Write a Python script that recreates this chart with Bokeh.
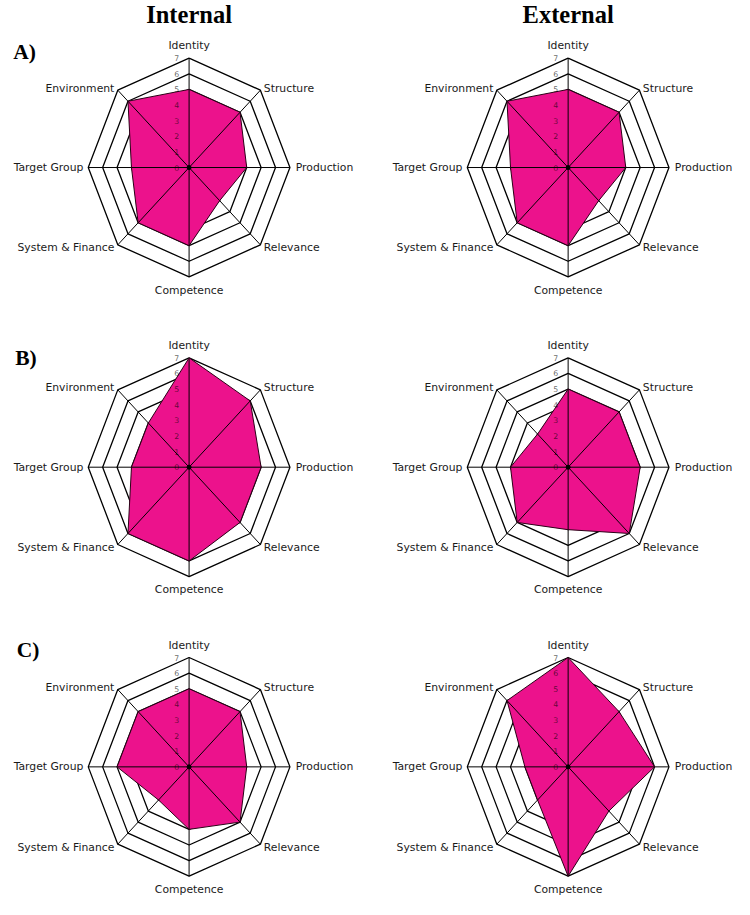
import numpy as np
from bokeh.plotting import figure
from bokeh.models import Range1d
from bokeh.core.properties import value
from bokeh.embed import file_html
from bokeh.resources import INLINE

# ---------------- data ----------------
categories = ["Identity", "Structure", "Production", "Relevance",
              "Competence", "System & Finance", "Target Group", "Environment"]
ticks = [0, 1, 2, 3, 4, 5, 6, 7]
column_titles = ["Internal", "External"]
row_labels = ["A)", "B)", "C)"]

internal_A = [5, 5, 4, 3, 5, 5, 4, 6]
external_A = [5, 5, 4, 3, 5, 5, 4, 6]
internal_B = [7, 6, 5, 5, 6, 6, 4, 4]
external_B = [5, 5, 5, 6, 4, 5, 4, 3]
internal_C = [5, 5, 4, 5, 4, 3, 5, 5]
external_C = [7, 5, 6, 4, 7, 3, 3, 6]

panels = [[internal_A, external_A], [internal_B, external_B], [internal_C, external_C]]

# ---------------- layout ----------------
W, H = 734, 899
REF_W, REF_H = 750, 915          # coordinate space of the design
S = W / REF_W                     # font scale
col_cx = [192.7, 580.0]
row_cy = [170.0, 475.0, 780.0]
UX, UY = 14.72, 15.9              # design pixels per unit (horizontal / vertical)
RMAX = 7
FILL = "#EC128C"
LABEL_FONT = "DejaVu Sans"

def fs(px):
    return "%.1fpx" % (px * S)

p = figure(width=W, height=H, x_range=Range1d(0, REF_W), y_range=Range1d(REF_H, 0),
           output_backend="svg", toolbar_location=None, min_border=0,
           x_axis_location=None, y_axis_location=None)
p.grid.visible = False
p.outline_line_color = None
p.background_fill_color = "white"
p.border_fill_color = "white"

theta = np.pi / 2 - np.arange(len(categories)) * np.pi / 4
cos_t, sin_t = np.cos(theta), np.sin(theta)

def to_xy(cx, cy, r):
    r = np.asarray(r, dtype=float)
    return cx + r * UX * cos_t, cy - r * UY * sin_t

align = ["center", "left", "left", "left", "center", "right", "right", "right"]
off = [(0, -12.5), (3.5, -2), (6, 0), (3.5, 3), (0, 13.5), (-3.5, 3), (-5, 0), (-3.5, -2)]

for ri, row in enumerate(panels):
    for ci, vals in enumerate(row):
        cx, cy = col_cx[ci], row_cy[ri]
        # rings
        rxs, rys = [], []
        for k in ticks[1:]:
            x, y = to_xy(cx, cy, [k] * len(categories))
            rxs.append(list(x) + [x[0]])
            rys.append(list(y) + [y[0]])
        p.multi_line(rxs, rys, line_color="black", line_width=1.3)
        # data polygon
        px, py = to_xy(cx, cy, vals)
        p.patch(list(px), list(py), fill_color=FILL, line_color=None)
        # spokes
        ox, oy = to_xy(cx, cy, [RMAX] * len(categories))
        p.segment(x0=[cx] * len(categories), y0=[cy] * len(categories), x1=list(ox), y1=list(oy),
                  line_color="black", line_width=1)
        # polygon outline
        p.patch(list(px), list(py), fill_color=None, line_color="#2a0016", line_width=1)
        # center dot
        p.scatter([cx], [cy], size=4, color="black")
        # tick labels
        tx = [cx - 12.7] * len(ticks)
        ty = [cy - t * UY for t in ticks]
        p.text(tx, ty, text=[str(t) for t in ticks], text_align="center", text_baseline="middle",
               text_font=value(LABEL_FONT), text_font_size=fs(8), text_color="black", text_alpha=0.6)
        # category labels
        for a in ["center", "left", "right"]:
            idx = [i for i in range(len(categories)) if align[i] == a]
            lx = [ox[i] + off[i][0] for i in idx]
            ly = [oy[i] + off[i][1] for i in idx]
            p.text(lx, ly, text=[categories[i] for i in idx], text_align=a, text_baseline="middle",
                   text_font=value(LABEL_FONT), text_font_size=fs(11), text_color="#1a1a1a")

# column titles
p.text(col_cx, [14, 14], text=column_titles, text_align="center", text_baseline="middle",
       text_font=value("Liberation Serif"), text_font_style="bold", text_font_size=fs(25),
       text_color="black")

# row labels
p.text([13, 15, 16.5], [52, 364, 661], text=row_labels, text_align="left",
       text_baseline="middle", text_font=value("Liberation Serif"), text_font_style="bold",
       text_font_size=fs(22), text_color="black")

open("out.html", "w").write(file_html(p, INLINE))
